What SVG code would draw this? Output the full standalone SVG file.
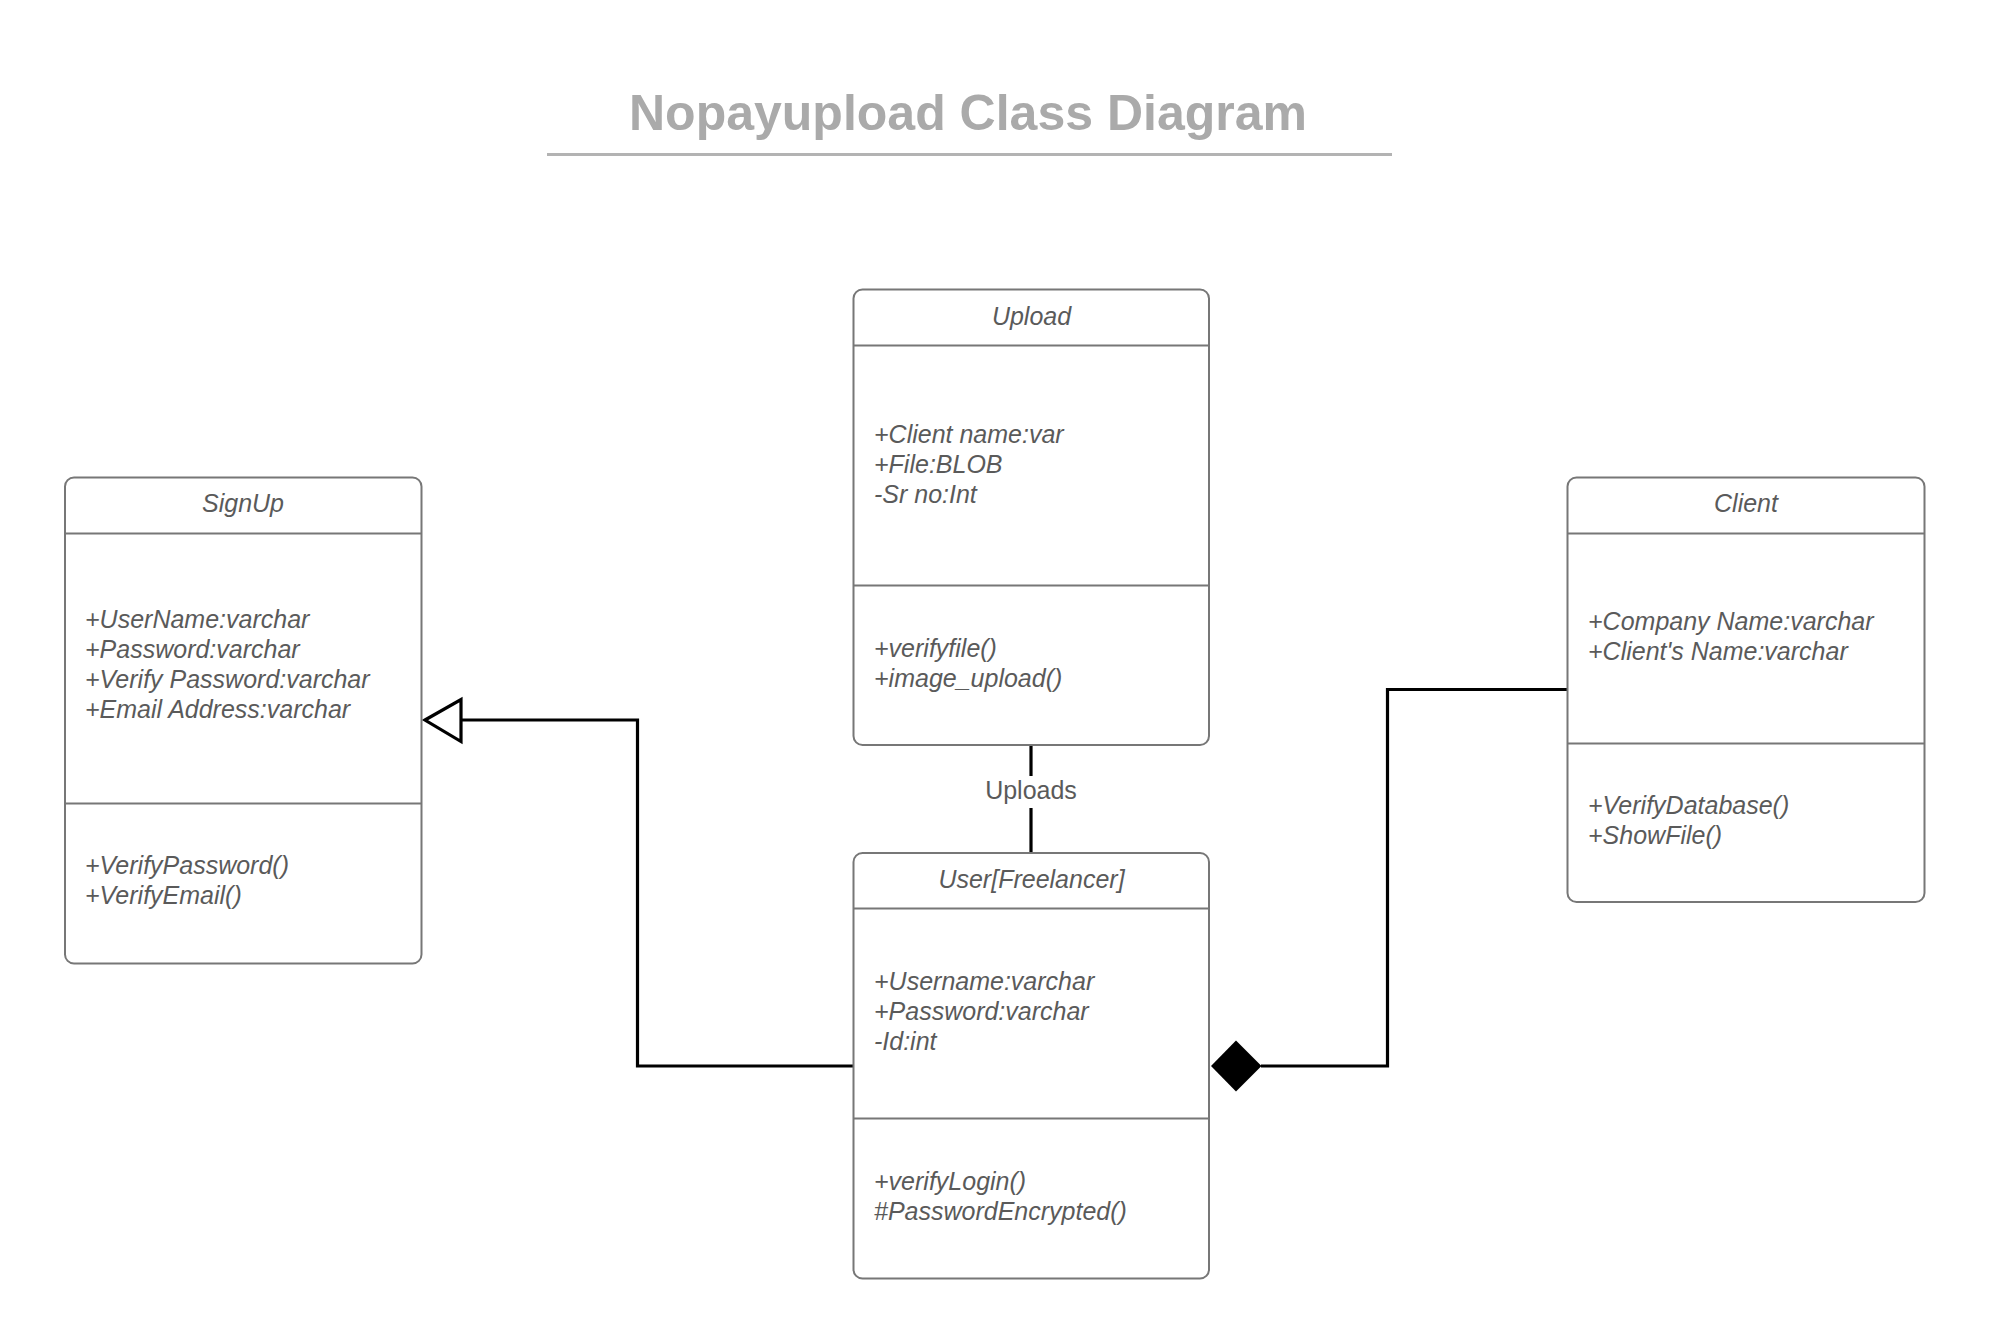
<svg xmlns="http://www.w3.org/2000/svg" width="1990" height="1344" viewBox="0 0 1990 1344">
<style>
.box{fill:#ffffff;stroke:#777777;stroke-width:2}
.div{stroke:#777777;stroke-width:2}
.t{font-family:"Liberation Sans",Arial,sans-serif;font-size:25px;font-style:italic;fill:#5a5a5a}
.c{text-anchor:middle}
.lbl{font-family:"Liberation Sans",Arial,sans-serif;font-size:25px;fill:#5a5a5a;text-anchor:middle}
.conn{fill:none;stroke:#000000;stroke-width:3.2}
.title{font-family:"Liberation Sans",Arial,sans-serif;font-size:50px;font-weight:bold;fill:#aaaaaa;text-anchor:middle}
</style>
<rect width="1990" height="1344" fill="#ffffff"/>
<g id="title">
<text class="title" x="968" y="130">Nopayupload Class Diagram</text>
<line x1="547" y1="154.5" x2="1392" y2="154.5" stroke="#b3b3b3" stroke-width="3"/>
</g>
<g id="connectors">
<line class="conn" x1="1031" y1="745" x2="1031" y2="776"/>
<line class="conn" x1="1031" y1="808" x2="1031" y2="853"/>
<text class="lbl" x="1031" y="798.5">Uploads</text>
<polyline class="conn" points="853.5,1066 637.5,1066 637.5,720 461,720"/>
<polygon points="425,720 461,699.5 461,741.5" fill="#ffffff" stroke="#000000" stroke-width="3.2"/>
<polyline class="conn" points="1567,689.5 1387.5,689.5 1387.5,1066 1261,1066"/>
<polygon points="1211,1066 1236,1040.5 1261.5,1066 1236,1091.5" fill="#000000"/>
</g>
<g id="signup">
<rect class="box" x="65" y="477.5" width="356.5" height="486" rx="9"/>
<line class="div" x1="65" y1="533.5" x2="421.5" y2="533.5"/>
<line class="div" x1="65" y1="803.5" x2="421.5" y2="803.5"/>
<text class="t c" x="243" y="511.5">SignUp</text>
<text class="t" x="85" y="628">+UserName:varchar</text>
<text class="t" x="85" y="658">+Password:varchar</text>
<text class="t" x="85" y="688">+Verify Password:varchar</text>
<text class="t" x="85" y="718">+Email Address:varchar</text>
<text class="t" x="85" y="874">+VerifyPassword()</text>
<text class="t" x="85" y="904">+VerifyEmail()</text>
</g>
<g id="upload">
<rect class="box" x="853.5" y="289.5" width="355.5" height="455.5" rx="9"/>
<line class="div" x1="853.5" y1="345.5" x2="1209" y2="345.5"/>
<line class="div" x1="853.5" y1="585.5" x2="1209" y2="585.5"/>
<text class="t c" x="1031.5" y="324.5">Upload</text>
<text class="t" x="874" y="442.5">+Client name:var</text>
<text class="t" x="874" y="472.5">+File:BLOB</text>
<text class="t" x="874" y="502.5">-Sr no:Int</text>
<text class="t" x="874" y="656.5">+verifyfile()</text>
<text class="t" x="874" y="686.5">+image_upload()</text>
</g>
<g id="user">
<rect class="box" x="853.5" y="853" width="355.5" height="425.5" rx="9"/>
<line class="div" x1="853.5" y1="908.5" x2="1209" y2="908.5"/>
<line class="div" x1="853.5" y1="1118.5" x2="1209" y2="1118.5"/>
<text class="t c" x="1031.5" y="887.5">User[Freelancer]</text>
<text class="t" x="874" y="990">+Username:varchar</text>
<text class="t" x="874" y="1020">+Password:varchar</text>
<text class="t" x="874" y="1050">-Id:int</text>
<text class="t" x="874" y="1190">+verifyLogin()</text>
<text class="t" x="874" y="1220">#PasswordEncrypted()</text>
</g>
<g id="client">
<rect class="box" x="1567.5" y="477.5" width="357" height="424.5" rx="9"/>
<line class="div" x1="1567.5" y1="533.5" x2="1924.5" y2="533.5"/>
<line class="div" x1="1567.5" y1="743.5" x2="1924.5" y2="743.5"/>
<text class="t c" x="1746" y="511.5">Client</text>
<text class="t" x="1588" y="629.5">+Company Name:varchar</text>
<text class="t" x="1588" y="659.5">+Client's Name:varchar</text>
<text class="t" x="1588" y="814">+VerifyDatabase()</text>
<text class="t" x="1588" y="844">+ShowFile()</text>
</g>
</svg>
